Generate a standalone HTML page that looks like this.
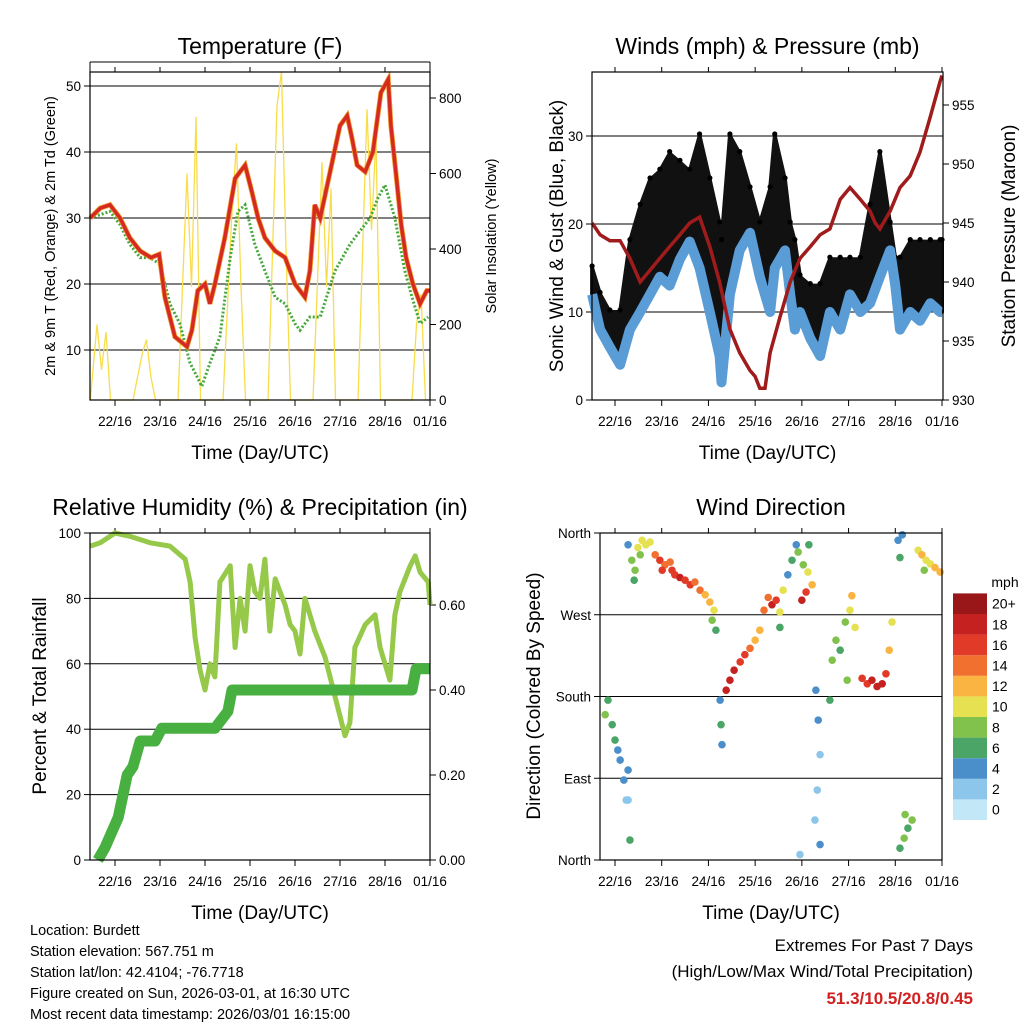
<!DOCTYPE html>
<html><head><meta charset="utf-8"><style>
html,body{margin:0;padding:0;background:#fff}
svg{display:block;font-family:"Liberation Sans",sans-serif}
</style></head><body>
<svg id="s" width="1024" height="1024" viewBox="0 0 1024 1024" xmlns="http://www.w3.org/2000/svg">
<g font-size="14.5" fill="#000">
<text x="30" y="935">Location: Burdett</text>
<text x="30" y="956">Station elevation: 567.751 m</text>
<text x="30" y="977">Station lat/lon: 42.4104; -76.7718</text>
<text x="30" y="998">Figure created on Sun, 2026-03-01, at 16:30 UTC</text>
<text x="30" y="1019">Most recent data timestamp: 2026/03/01 16:15:00</text>
</g>
<g text-anchor="end">
<text x="973" y="951" font-size="17">Extremes For Past 7 Days</text>
<text x="973" y="977" font-size="17">(High/Low/Max Wind/Total Precipitation)</text>
<text x="973" y="1004" font-size="17" font-weight="bold" fill="#d02020">51.3/10.5/20.8/0.45</text>
</g>
</svg>
<script>
const NS="http://www.w3.org/2000/svg";
const S=document.getElementById('s');
// ---------- DATA ----------
const dayTicks=["22/16","23/16","24/16","25/16","26/16","27/16","28/16","01/16"];
const tempT=[-0.55,-0.33,-0.11,0.11,0.33,0.56,0.8,0.98,1.11,1.33,1.6,1.71,1.84,2.0,2.11,2.22,2.44,2.67,2.89,3.04,3.18,3.33,3.56,3.78,4.0,4.22,4.33,4.44,4.56,4.78,5.0,5.16,5.27,5.38,5.56,5.73,5.91,6.07,6.13,6.24,6.36,6.47,6.62,6.78,6.93,7.0];
const tempRed=[30,31.5,32,30,27,25,24,24.5,18,12,10.5,13,19,20,17,20,27,36,38,34,30,27,25,24,20,18,22,32,30,37,44,45.5,42,38,37,40,49,51,44,37,29,24,20,17,19,19];
const dewT=[-0.55,-0.11,0.11,0.33,0.56,0.78,1.0,1.22,1.44,1.67,1.82,1.93,2.11,2.33,2.56,2.73,2.89,3.11,3.33,3.56,3.78,4.0,4.11,4.33,4.56,4.89,5.22,5.44,5.67,5.84,6.0,6.22,6.44,6.6,6.78,6.96];
const dewGreen=[30,31,29,26,24,24,23,17,14,8,6,4.5,8,12,24,31,32,26,22,18,17,14,13,15,15,22,26,28,30,33,35,30,22,18,14,15];
const solarT=[-0.55,-0.4,-0.3,-0.2,-0.1,0.4,0.6,0.7,0.8,0.9,1.4,1.6,1.7,1.8,1.9,2.4,2.6,2.7,2.8,2.9,3.4,3.6,3.7,3.8,3.9,4.4,4.6,4.7,4.8,4.9,5.4,5.6,5.7,5.8,5.9,6.4,6.6,6.7,6.8,6.9,7.0];
const solarW=[0,200,80,180,0,0,120,160,60,0,0,600,300,750,0,0,500,680,300,0,0,780,870,400,0,0,630,300,560,0,0,770,450,700,0,0,0,200,280,0,0];
const windT=[-0.49,-0.32,-0.11,0.11,0.32,0.54,0.75,0.96,1.17,1.39,1.6,1.81,2.03,2.24,2.28,2.46,2.67,2.89,3.1,3.32,3.42,3.64,3.75,3.85,3.96,4.18,4.39,4.6,4.82,5.03,5.25,5.46,5.67,5.89,6.0,6.1,6.32,6.53,6.75,6.96,7.0];
const windSustained=[12,8,6,4,8,10,12,14,13,16,18,15,10,5,2,12,17,19,14,10,15,17,12,8,10,7,5,10,8,12,10,11,14,17,13,8,10,9,11,10,10];
const windGust=[15,12,10,10,18,22,25,26,28,27,26,30,25,20,18,30,28,24,20,24,30,25,20,18,14,13,13,16,16,16,16,22,28,20,16,16,18,18,18,18,18];
const pressT=[-0.49,-0.32,-0.11,0.11,0.32,0.54,0.75,0.96,1.17,1.39,1.6,1.81,2.03,2.24,2.46,2.67,2.89,3.0,3.1,3.21,3.32,3.53,3.75,3.96,4.18,4.39,4.6,4.82,5.03,5.25,5.46,5.57,5.67,5.89,6.1,6.32,6.53,6.75,6.96,7.0];
const pressMb=[945,944,943.5,943.5,942,940,941,942,943,944,945,945.5,943,940,936,934,932.5,932,931,931,934,937,940,942,943,944,944.5,947,948,947,946,945,944.5,946,948,949,951,954,957,957.5];
const rhT=[-0.55,-0.33,0,0.33,0.78,1.22,1.56,1.67,1.78,1.89,2.0,2.11,2.22,2.33,2.56,2.67,2.78,2.89,3.0,3.11,3.22,3.33,3.44,3.56,3.67,3.78,3.89,4.0,4.11,4.22,4.33,4.44,4.67,4.89,5.11,5.22,5.33,5.56,5.78,5.89,6.0,6.11,6.22,6.33,6.56,6.67,6.78,6.96,7.0];
const rhPct=[96,97,100,99,97,96,92,85,68,58,52,60,56,85,90,65,80,70,90,82,80,92,70,86,82,78,72,70,63,80,75,70,62,50,38,42,65,72,75,65,60,55,75,82,90,93,88,85,78];
const rainT=[-0.38,-0.22,0.07,0.27,0.4,0.56,0.89,1.04,2.22,2.51,2.6,6.6,6.69,7.0];
const rainIn=[0,0.03,0.1,0.2,0.22,0.28,0.28,0.31,0.31,0.35,0.40,0.40,0.45,0.45];
const dirT=[-0.21,-0.15,-0.06,0,0.06,0.11,0.19,0.24,0.28,
0.28,0.36,0.43,0.49,0.58,0.66,0.75,0.41,0.54,
0.86,0.96,1.07,1.18,1.28,1.39,1.5,1.61,1.71,1.01,1.22,
1.82,1.93,2.03,2.12,2.08,2.16,
2.25,2.27,2.29,
2.38,2.46,2.55,2.68,2.78,2.89,3.0,3.1,3.19,3.28,
3.36,3.45,3.53,3.6,3.53,
3.7,3.79,3.92,4.03,4.13,4.0,4.09,4.22,4.15,3.88,
4.3,4.35,4.39,4.33,4.28,4.39,3.96,
4.65,4.73,4.82,4.93,5.03,5.07,5.14,4.97,4.6,
5.29,5.4,5.5,5.61,5.72,5.8,5.87,5.93,
6.06,6.15,6.1,6.21,6.27,6.36,6.1,6.19,
6.49,6.57,6.66,6.75,6.85,6.96,6.62,
0.32,0.28];
const dirDeg=[160,176,149,132,121,110,88,66,99,
347,330,319,344,352,347,350,308,336,
336,330,325,328,314,311,308,303,306,319,319,
297,292,284,275,264,253,
176,149,127,
187,198,209,218,226,233,242,253,275,289,
281,286,273,297,256,
314,330,339,325,317,286,295,303,347,347,
187,154,116,77,44,17,6,
220,242,231,262,275,291,256,198,176,
200,194,198,191,194,205,231,262,
352,358,333,50,35,44,13,24,
341,336,330,326,322,317,319,
22,66];
const dirSpd=[7,6,6,5,4,4,3,2,3,
3,7,8,9,10,9,10,6,8,
14,15,14,13,16,17,16,15,14,16,15,
13,12,11,10,7,6,
4,5,3,
18,17,18,16,15,14,12,12,13,14,
18,16,10,9,5,
4,6,8,7,10,17,15,12,5,4,
4,3,2,1,2,3,1,
8,7,6,8,10,12,9,7,5,
15,16,17,18,17,16,12,10,
4,3,5,8,6,7,5,7,
10,11,9,10,11,12,8,
6,2];
const cbLabels=["0","2","4","6","8","10","12","14","16","18","20+"];
const cbColors=["#c2e8f8","#8cc6ea","#4b8fca","#4aa567","#80c24c","#e6e151","#f9b441","#f2702f","#e23a28","#c62121","#9a1719"];
// ---------- helpers ----------
function el(tag,attrs,parent,text){const e=document.createElementNS(NS,tag);for(const k in attrs)e.setAttribute(k,attrs[k]);if(text!==undefined)e.textContent=text;(parent||S).appendChild(e);return e;}
function lin(d0,d1,r0,r1){return v=>r0+(v-d0)*(r1-r0)/(d1-d0);}
function pts(xs,ys,fx,fy){return xs.map((t,i)=>fx(t).toFixed(1)+","+fy(ys[i]).toFixed(1)).join(" ");}
function panel(name,x0,y0,x1,y1,title,xt){
  const g=el('g',{},S);
  
  
  const tt=el('text',{x:(x0+x1)/2,y:y0-18,'text-anchor':'middle','font-size':23},g,title);
  
  
  const xl=el('text',{x:(x0+x1)/2,y:y1+59,'text-anchor':'middle','font-size':19},g,'Time (Day/UTC)');
  
  
  const fx=lin(0,7,xt[0],xt[1]);
  dayTicks.forEach((d,i)=>{const x=fx(i);
    el('line',{x1:x,x2:x,y1:y1,y2:y1+6,stroke:'#000'},g);
    el('line',{x1:x,x2:x,y1:y0,y2:y0-5,stroke:'#000'},g);
    const t=el('text',{x:x,y:y1+26,'text-anchor':'middle','font-size':13.5},g,d);
    
    
  });
  return {g,fx};
}
function box(g,x0,y0,x1,y1){el('rect',{x:x0,y:y0,width:x1-x0,height:y1-y0,fill:'none',stroke:'#000','stroke-width':1.2},g);}
function yTicks(g,vals,fy,x,side,x0,x1,grid,fmt){vals.forEach(v=>{const y=fy(v);
  if(grid)el('line',{x1:x0,x2:x1,y1:y,y2:y,stroke:'#000','stroke-width':1},g);
  el('line',{x1:x,x2:x+(side<0?-6:6),y1:y,y2:y,stroke:'#000'},g);
  const t=el('text',{x:x+(side<0?-9:9),y:y+5,'text-anchor':side<0?'end':'start','font-size':13.5},g,fmt?fmt(v):String(v));
  
  
});}
function vtitle(g,x,y,txt,fs,name){const t=el('text',{x:0,y:0,transform:`translate(${x},${y}) rotate(-90)`,'text-anchor':'middle','font-size':fs},g,txt);
  
  }
// ---------- Panel 1 ----------
(function(){
  const X0=90,Y0=72,X1=430,Y1=400;
  const p=panel('temperature-panel',X0,Y0,X1,Y1,'Temperature (F)',[115,430]);
  const fx=p.fx, fy=lin(10,50,350,86), fs=lin(0,800,400,98);
  yTicks(p.g,[10,20,30,40,50],fy,X0,-1,X0,X1,true);
  yTicks(p.g,[0,200,400,600,800],fs,X1,1,X0,X1,false);
  el('line',{x1:X0,x2:X1,y1:62,y2:62,stroke:'#000'},p.g);
  el('line',{x1:X0,x2:X0,y1:62,y2:Y0,stroke:'#000'},p.g);
  el('line',{x1:X1,x2:X1,y1:62,y2:Y0,stroke:'#000'},p.g);
  const sol=el('polyline',{points:pts(solarT,solarW,fx,fs),fill:'none',stroke:'#f8dd4a','stroke-width':1.3},p.g);
  
  
  const dew=el('polyline',{points:pts(dewT,dewGreen,fx,fy),fill:'none',stroke:'#45a83a','stroke-width':3,'stroke-dasharray':'2 2'},p.g);
  
  
  const or=el('polyline',{points:pts(tempT,tempRed,fx,fy),fill:'none',stroke:'#f29a2e','stroke-width':5},p.g);
  
  
  const rd=el('polyline',{points:pts(tempT,tempRed,fx,fy),fill:'none',stroke:'#d42a22','stroke-width':3.5},p.g);
  
  
  box(p.g,X0,Y0,X1,Y1);
  vtitle(p.g,55,236,'2m & 9m T (Red, Orange) & 2m Td (Green)',14.5,'temperature-y-axis-title');
  vtitle(p.g,496,236,'Solar Insolation (Yellow)',14.5,'solar-y-axis-title');
})();
// ---------- Panel 2 ----------
(function(){
  const X0=592,Y0=72,X1=943,Y1=400;
  const p=panel('winds-panel',X0,Y0,X1,Y1,'Winds (mph) & Pressure (mb)',[615,942]);
  const fx=p.fx, fy=lin(0,30,400,136), fp=lin(930,955,400,105);
  yTicks(p.g,[0,10,20,30],fy,X0,-1,X0,X1,true);
  yTicks(p.g,[930,935,940,945,950,955],fp,X1,1,X0,X1,false);
  const band=el('polygon',{points:pts(windT,windGust,fx,fy)+" "+pts(windT.slice().reverse(),windSustained.slice().reverse(),fx,fy),fill:'#111',stroke:'#111','stroke-width':4,'stroke-linejoin':'round'},p.g);
  
  
  windT.forEach((t,i)=>{const c=el('circle',{cx:fx(t),cy:fy(windGust[i])-2,r:2.6,fill:'#000'},p.g);
    
    });
  const ws=el('polyline',{points:pts(windT,windSustained,fx,fy),fill:'none',stroke:'#5a9dd6','stroke-width':10,'stroke-linejoin':'round'},p.g);
  
  
  const pr=el('polyline',{points:pts(pressT,pressMb,fx,fp),fill:'none',stroke:'#a01c1c','stroke-width':3.5},p.g);
  
  
  box(p.g,X0,Y0,X1,Y1);
  vtitle(p.g,563,236,'Sonic Wind & Gust (Blue, Black)',19,'wind-y-axis-title');
  vtitle(p.g,1015,236,'Station Pressure (Maroon)',19,'pressure-y-axis-title');
})();
// ---------- Panel 3 ----------
(function(){
  const X0=90,Y0=533,X1=430,Y1=860;
  const p=panel('humidity-panel',X0,Y0,X1,Y1,'Relative Humidity (%) & Precipitation (in)',[115,430]);
  const fx=p.fx, fy=lin(0,100,860,533), fr=lin(0,0.6,860,605);
  yTicks(p.g,[0,20,40,60,80,100],fy,X0,-1,X0,X1,true);
  yTicks(p.g,[0,0.2,0.4,0.6],fr,X1,1,X0,X1,false,v=>v.toFixed(2));
  const rh=el('polyline',{points:pts(rhT,rhPct,fx,fy),fill:'none',stroke:'#96c84a','stroke-width':5,'stroke-linejoin':'round'},p.g);
  
  
  const rn=el('polyline',{points:pts(rainT,rainIn,fx,fr),fill:'none',stroke:'#48b040','stroke-width':11,'stroke-linejoin':'round'},p.g);
  
  
  box(p.g,X0,Y0,X1,Y1);
  vtitle(p.g,46,696,'Percent & Total Rainfall',19,'humidity-y-axis-title');
})();
// ---------- Panel 4 ----------
(function(){
  const X0=600,Y0=533,X1=942,Y1=860;
  const p=panel('wind-direction-panel',X0,Y0,X1,Y1,'Wind Direction',[615,942]);
  const fx=p.fx, fy=lin(0,360,860,533);
  const names=['North','East','South','West','North'];
  yTicks(p.g,[0,90,180,270,360],fy,X0,-1,X0,X1,true,v=>names[v/90]);
  function col(s){return cbColors[Math.max(0,Math.min(10,Math.round(s/2)))];}
  dirT.forEach((t,i)=>{const c=el('circle',{cx:fx(t),cy:fy(dirDeg[i]),r:3.8,fill:col(dirSpd[i])},p.g);
    
    });
  box(p.g,X0,Y0,X1,Y1);
  vtitle(p.g,540,696,'Direction (Colored By Speed)',19,'direction-y-axis-title');
  const cb=el('g',{},S);
  
  
  el('text',{x:1005,y:587,'text-anchor':'middle','font-size':14},cb,'mph');
  const h=20.6;
  cbColors.forEach((c,i)=>{const y=820-(i+1)*h;
    const r=el('rect',{x:953,y:y,width:34,height:h,fill:c},cb);
    
    
    el('text',{x:992,y:y+h/2+5,'font-size':14},cb,cbLabels[i]);
  });
})();
</script>
</body></html>
